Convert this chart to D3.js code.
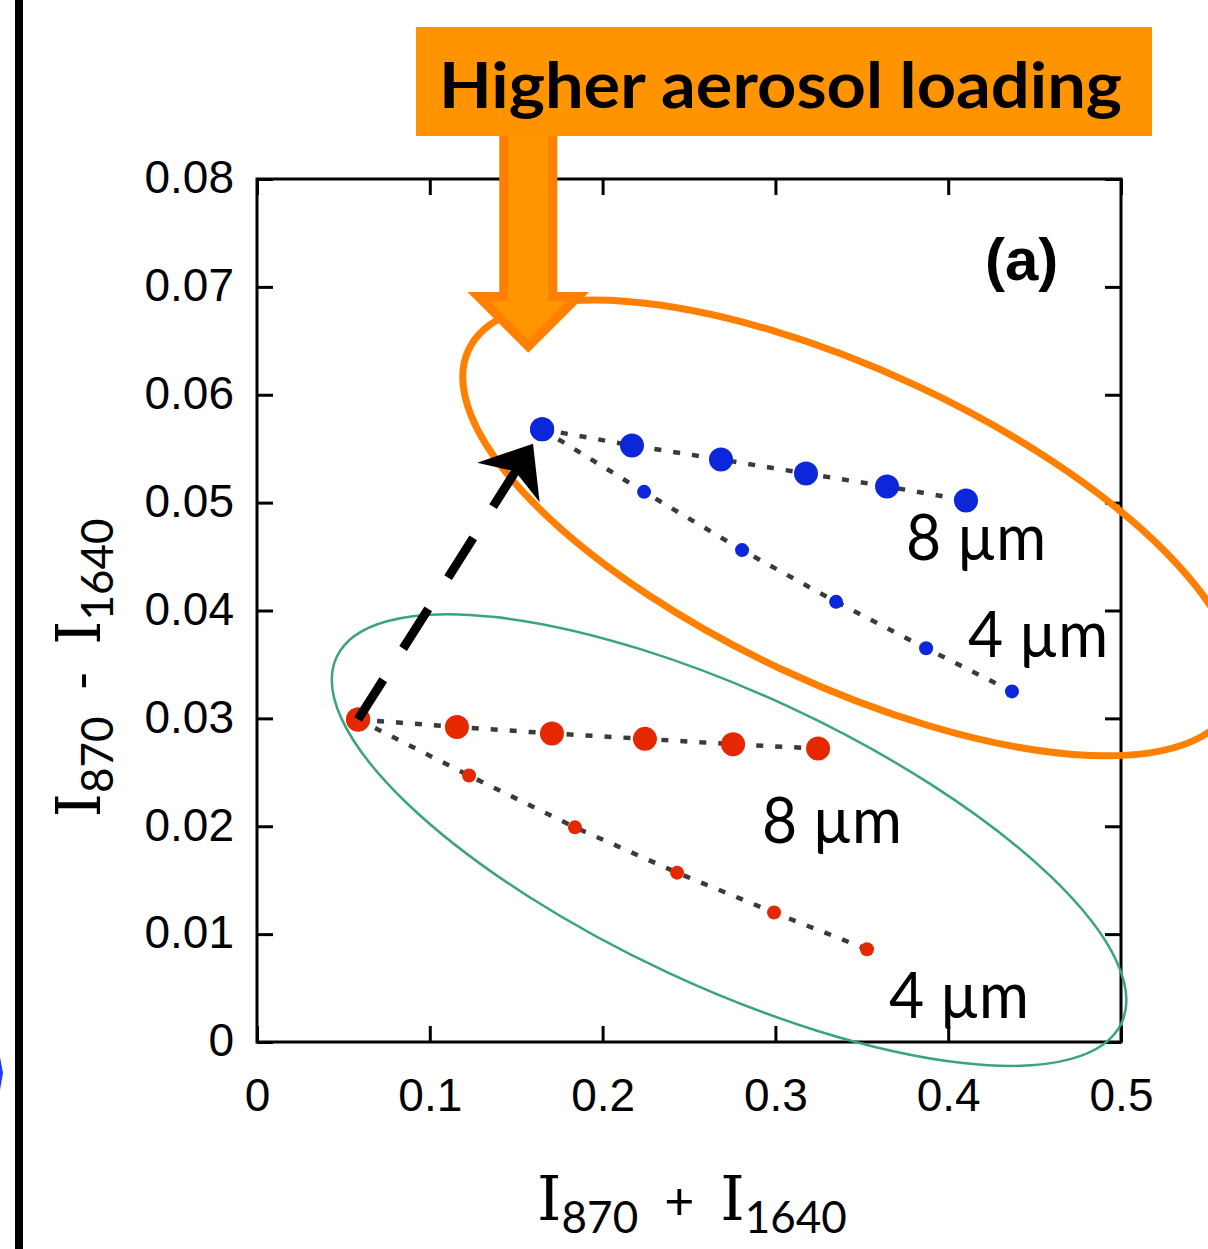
<!DOCTYPE html>
<meta charset="utf-8">
<style>
  body { margin: 0; background: #fff; }
  svg { display: block; }
</style>
<body>
<script src="https://d3js.org/d3.v7.min.js"></script>
<script>
var width = 1208, height = 1249;

// x = I870 + I1640, y = I870 - I1640
var blue8umX = [0.165, 0.217, 0.2685, 0.3177, 0.3646, 0.4103];
var blue8umY = [0.0568, 0.0553, 0.0540, 0.0527, 0.0515, 0.0502];
var blue4umX = [0.165, 0.224, 0.2807, 0.3351, 0.3872, 0.4369];
var blue4umY = [0.0568, 0.0510, 0.0456, 0.0408, 0.0365, 0.0325];
var red8umX = [0.0585, 0.1157, 0.1707, 0.2245, 0.2755, 0.3247];
var red8umY = [0.0299, 0.0292, 0.0286, 0.0281, 0.0276, 0.0272];
var red4umX = [0.0585, 0.1227, 0.1840, 0.2431, 0.2992, 0.3530];
var red4umY = [0.0299, 0.0247, 0.0199, 0.0157, 0.0120, 0.0086];

var xTicks = [0, 0.1, 0.2, 0.3, 0.4, 0.5];
var xTickLabels = ["0", "0.1", "0.2", "0.3", "0.4", "0.5"];
var yTicks = [0, 0.01, 0.02, 0.03, 0.04, 0.05, 0.06, 0.07, 0.08];
var yTickLabels = ["0", "0.01", "0.02", "0.03", "0.04", "0.05", "0.06", "0.07", "0.08"];

var blue = "#0b27d9", red = "#e52800";
var comic = "'Comic Sans MS', Lato, sans-serif";

var svg = d3.select("body").append("svg")
  .attr("width", width)
  .attr("height", height);

var x = d3.scaleLinear().domain([0, 0.5]).range([257, 1121]);
var y = d3.scaleLinear().domain([0, 0.08]).range([1042, 179]);

// black bar on the left edge (from the neighbouring panel)
svg.append("rect").attr("x", 15).attr("y", 0).attr("width", 8).attr("height", height).attr("fill", "#000");
svg.append("path").attr("d", "M0,1057 L3,1073 L0,1090 Z").attr("fill", "#1a3cff");

// axes, ticks pointing inwards on all four sides
var axisFont = "'Liberation Sans', Arial, sans-serif";
function styleAxis(g) {
  g.select(".domain").remove();
  g.selectAll(".tick line").attr("stroke", "#000").attr("stroke-width", 3);
  g.selectAll(".tick text").attr("fill", "#000").attr("font-size", 46).attr("font-family", axisFont);
}

svg.append("g").attr("transform", "translate(0,1042)")
  .call(d3.axisBottom(x).tickValues(xTicks).tickFormat(function(d, i) { return xTickLabels[i]; })
    .tickSizeInner(-16).tickSizeOuter(0).tickPadding(36))
  .call(styleAxis);

svg.append("g").attr("transform", "translate(257,0)")
  .call(d3.axisLeft(y).tickValues(yTicks).tickFormat(function(d, i) { return yTickLabels[i]; })
    .tickSizeInner(-16).tickSizeOuter(0).tickPadding(23))
  .call(styleAxis)
  .selectAll(".tick text").attr("dy", "0.3em");

svg.append("g").attr("transform", "translate(0,179)")
  .call(d3.axisTop(x).tickValues(xTicks).tickFormat("").tickSizeInner(-16).tickSizeOuter(0))
  .call(styleAxis);

svg.append("g").attr("transform", "translate(1121,0)")
  .call(d3.axisRight(y).tickValues(yTicks).tickFormat("").tickSizeInner(-16).tickSizeOuter(0))
  .call(styleAxis);

svg.append("rect")
  .attr("x", x(0)).attr("y", y(0.08))
  .attr("width", x(0.5) - x(0)).attr("height", y(0) - y(0.08))
  .attr("fill", "none").attr("stroke", "#000").attr("stroke-width", 3);

// green ring round the red points
svg.append("ellipse")
  .attr("transform", "translate(" + x(0.2732) + "," + y(0.01872) + ") rotate(25)")
  .attr("rx", 433).attr("ry", 146)
  .attr("fill", "none").attr("stroke", "#3aa57c").attr("stroke-width", 2.5);

// series
var series = [
  { xs: blue8umX, ys: blue8umY, color: blue, r: 12 },
  { xs: blue4umX, ys: blue4umY, color: blue, r: 7 },
  { xs: red8umX, ys: red8umY, color: red, r: 12 },
  { xs: red4umX, ys: red4umY, color: red, r: 7 }
];

var line = d3.line().x(function(d) { return x(d[0]); }).y(function(d) { return y(d[1]); });

series.forEach(function(s) {
  var pts = s.xs.map(function(v, i) { return [v, s.ys[i]]; });
  svg.append("path")
    .attr("d", line(pts))
    .attr("fill", "none")
    .attr("stroke", "#3a3a3a")
    .attr("stroke-width", 4.5)
    .attr("stroke-dasharray", "7,12");
});

series.forEach(function(s) {
  var pts = s.xs.map(function(v, i) { return [v, s.ys[i]]; });
  svg.append("g").selectAll("circle")
    .data(pts)
    .enter()
    .append("circle")
    .attr("cx", function(d) { return x(d[0]); })
    .attr("cy", function(d) { return y(d[1]); })
    .attr("r", function(d, i) { return i === 0 ? 12 : s.r; })
    .attr("fill", s.color);
});

// orange ring round the blue points
svg.append("ellipse")
  .attr("transform", "translate(" + x(0.3432) + "," + y(0.04765) + ") rotate(25)")
  .attr("rx", 421).attr("ry", 157)
  .attr("fill", "none").attr("stroke", "#ff8000").attr("stroke-width", 7);

// big orange arrow and the banner
var ax = x(0.157);
svg.append("path")
  .attr("d", "M" + (ax - 24.5) + ",120 V296.5 H" + (ax - 50) + " L" + ax + ",346.5 L" + (ax + 50) + ",296.5 H" + (ax + 24.5) + " V120 Z")
  .attr("fill", "#ff9600")
  .attr("stroke", "#ff8000")
  .attr("stroke-width", 9);

svg.append("rect")
  .attr("x", 416).attr("y", 27).attr("width", 736).attr("height", 109)
  .attr("fill", "#ff9400");

svg.append("text")
  .attr("x", 439).attr("y", 108)
  .attr("font-family", comic).attr("font-weight", "bold").attr("font-size", 64)
  .attr("textLength", 683).attr("lengthAdjust", "spacingAndGlyphs")
  .attr("fill", "#000")
  .text("Higher aerosol loading");

// panel letter
svg.append("text")
  .attr("x", x(0.4213)).attr("y", y(0.07064))
  .attr("font-family", axisFont).attr("font-weight", "bold").attr("font-size", 60)
  .text("(a)");

// size labels
var sizeLabels = [
  { text: "8 \u00b5m", x: 0.3756, y: 0.04468 },
  { text: "4 \u00b5m", x: 0.4115, y: 0.03569 },
  { text: "8 \u00b5m", x: 0.2922, y: 0.01845 },
  { text: "4 \u00b5m", x: 0.3657, y: 0.00222 }
];
svg.append("g").selectAll("text")
  .data(sizeLabels)
  .enter()
  .append("text")
  .attr("x", function(d) { return x(d.x); })
  .attr("y", function(d) { return y(d.y); })
  .attr("font-family", comic).attr("font-size", 63)
  .attr("textLength", 140).attr("lengthAdjust", "spacingAndGlyphs")
  .text(function(d) { return d.text; });

// axis titles: I870 + I1640 and I870 - I1640
function intensityLabel(g, op) {
  var t = g.append("text").attr("text-anchor", "middle").attr("font-family", comic).attr("fill", "#000");
  t.append("tspan").attr("font-family", "'DejaVu Serif', serif").attr("font-size", 62).text("I");
  t.append("tspan").attr("font-size", 44).attr("dy", 13).text("870");
  t.append("tspan").attr("font-size", 52).attr("dy", -13).text("\u2002" + op + "\u2002");
  t.append("tspan").attr("font-family", "'DejaVu Serif', serif").attr("font-size", 62).text("I");
  t.append("tspan").attr("font-size", 44).attr("dy", 13).text("1640");
}
intensityLabel(svg.append("g").attr("transform", "translate(692,1220)"), "+");
intensityLabel(svg.append("g").attr("transform", "translate(100,668) rotate(-90)"), "-");

// dashed black arrow from the red start point to the blue start point
var p0 = [x(red8umX[0]), y(red8umY[0])];
var p1 = [x(blue8umX[0]), y(blue8umY[0])];
var len = Math.hypot(p1[0] - p0[0], p1[1] - p0[1]);
var u = [(p1[0] - p0[0]) / len, (p1[1] - p0[1]) / len];
var n = [-u[1], u[0]];
var tip = [p1[0] - u[0] * 17, p1[1] - u[1] * 17];
var notch = [tip[0] - u[0] * 33, tip[1] - u[1] * 33];
var barbA = [tip[0] - u[0] * 46 + n[0] * 37, tip[1] - u[1] * 46 + n[1] * 37];
var barbB = [tip[0] - u[0] * 46 - n[0] * 37, tip[1] - u[1] * 46 - n[1] * 37];

svg.append("line")
  .attr("x1", p0[0]).attr("y1", p0[1])
  .attr("x2", notch[0] + u[0] * 4).attr("y2", notch[1] + u[1] * 4)
  .attr("stroke", "#000").attr("stroke-width", 9)
  .attr("stroke-dasharray", "47,37");

svg.append("path")
  .attr("d", "M" + tip + "L" + barbA + "L" + notch + "L" + barbB + "Z")
  .attr("fill", "#000");
</script>
